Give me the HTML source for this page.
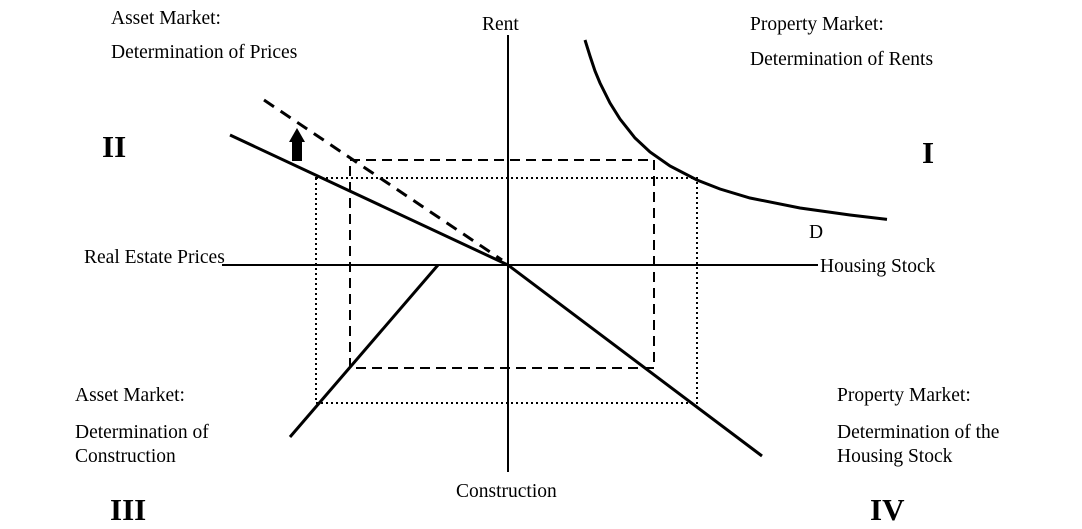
<!DOCTYPE html><html><head><style>body{margin:0;background:#fff}svg{display:block}text{font-family:"Liberation Serif",serif;font-size:19.5px;fill:#000}.b{font-weight:bold;font-size:31px}</style></head><body>
<svg width="1082" height="529" xmlns="http://www.w3.org/2000/svg">
<g stroke="#000" fill="none">
<line x1="508" y1="35" x2="508" y2="472" stroke-width="2"/>
<line x1="222" y1="265" x2="818" y2="265" stroke-width="2"/>
<polyline points="230,135 508,265 762,456" stroke-width="3"/>
<line x1="264" y1="100" x2="502" y2="260" stroke-width="3" stroke-dasharray="12,8"/>
<line x1="438" y1="265" x2="290" y2="437" stroke-width="3"/>
<rect x="350" y="160" width="304" height="208" stroke-width="2" stroke-dasharray="10,6"/>
<rect x="316" y="178" width="381" height="225" stroke-width="2" stroke-dasharray="2,3"/>
<polyline points="585,40 590,56 595,71 600,83 610,103 620,119 635,138 650,152 670,166 697,180 720,189 750,198 800,208 850,215 887,219.4" stroke-width="3"/>
</g>
<polygon points="297,128 305,142 302,142 302,161 292,161 292,142 289,142" fill="#000"/>
<text x="111" y="24">Asset Market:</text>
<text x="111" y="58">Determination of Prices</text>
<text x="482" y="30">Rent</text>
<text x="750" y="30">Property Market:</text>
<text x="750" y="65">Determination of Rents</text>
<text x="102" y="157" class="b">II</text>
<text x="922" y="163" class="b">I</text>
<text x="809" y="238">D</text>
<text x="84" y="263">Real Estate Prices</text>
<text x="820" y="272">Housing Stock</text>
<text x="75" y="401">Asset Market:</text>
<text x="75" y="438">Determination of</text>
<text x="75" y="462">Construction</text>
<text x="837" y="401">Property Market:</text>
<text x="837" y="438">Determination of the</text>
<text x="837" y="462">Housing Stock</text>
<text x="456" y="497">Construction</text>
<text x="110" y="520" class="b">III</text>
<text x="870" y="520" class="b">IV</text>
</svg></body></html>
